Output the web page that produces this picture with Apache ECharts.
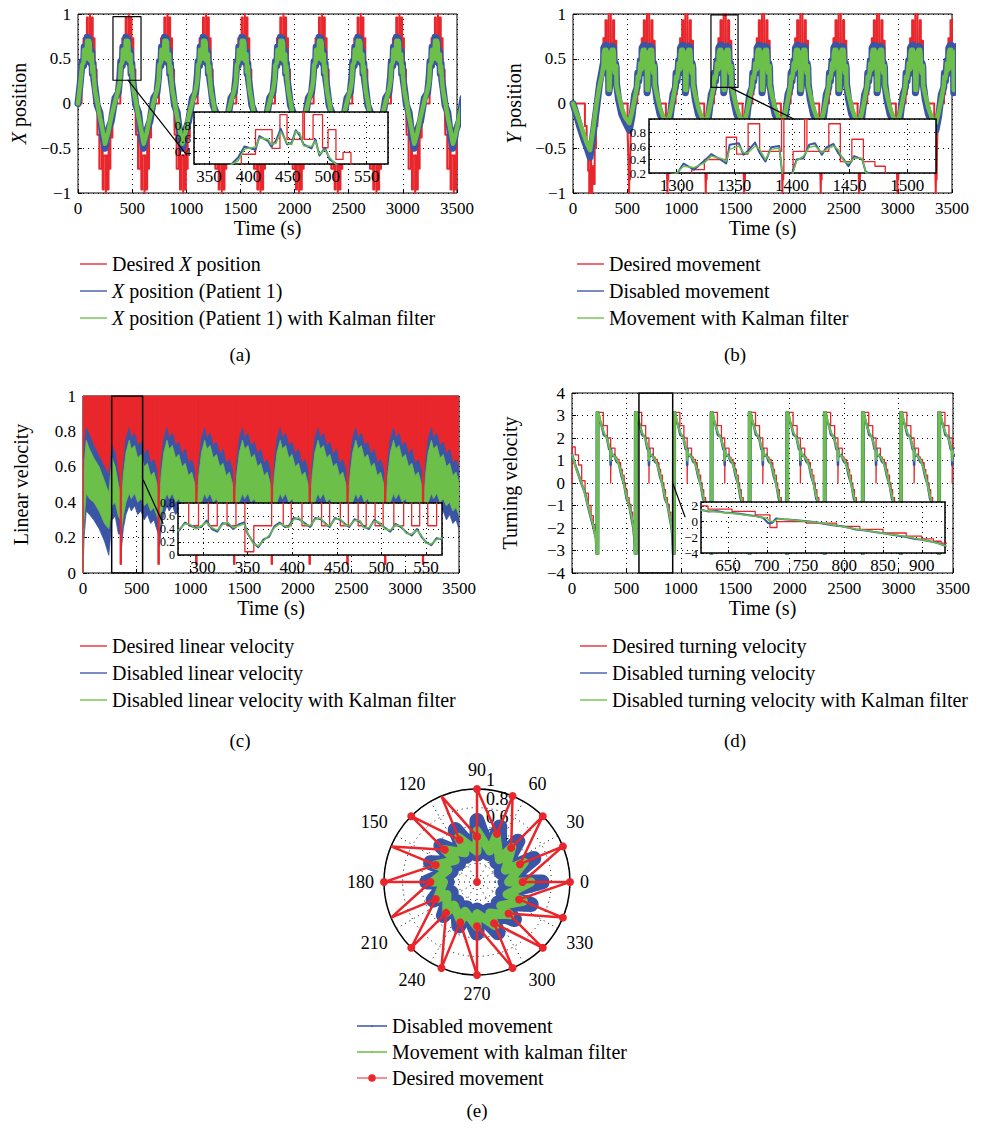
<!DOCTYPE html>
<html><head><meta charset="utf-8">
<script src="https://cdn.jsdelivr.net/npm/echarts@6/dist/echarts.min.js"></script>
<style>
html,body{margin:0;padding:0;background:#fff;width:984px;height:1130px;overflow:hidden}
.p{position:absolute}
</style></head><body>
<div id="pa" class="p" style="left:0;top:0;width:492px;height:375px"></div>
<div id="pb" class="p" style="left:492px;top:0;width:492px;height:375px"></div>
<div id="pc" class="p" style="left:0;top:375px;width:492px;height:385px"></div>
<div id="pd" class="p" style="left:492px;top:375px;width:492px;height:385px"></div>
<div id="pe" class="p" style="left:0;top:760px;width:984px;height:370px"></div>
<script>
// ======================= DATA =======================
// ---- (a) X position ----
const xPeakTimes = [102, 459, 816, 1173, 1530, 1887, 2244, 2601, 2958, 3315];
const xOffsets = [-64,-50,-45,-34,-30,-24,-18,-10,-4,1,6,11,21,26,31,38,44,55,75,100,125,148,175,205,240,270,285];
const xKalman  = [0.43,0.46,0.6,0.58,0.5,0.52,0.7,0.52,0.5,0.7,0.68,0.48,0.47,0.55,0.35,0.42,0.3,0.15,0.02,-0.15,-0.3,-0.45,-0.33,-0.15,0.02,0.15,0.25];
const xPatient = [0.47,0.42,0.63,0.55,0.47,0.56,0.74,0.5,0.53,0.72,0.64,0.5,0.44,0.58,0.33,0.45,0.27,0.18,-0.02,-0.1,-0.36,-0.5,-0.3,-0.2,0.06,0.12,0.3];
const xStartT = [0, 20];
const xStartKalman = [0, 0.2];
const xStartPatient = [0, 0.22];
const xDesPeakCenters = [112, 470, 827, 1184, 1541, 1898, 2255, 2612, 2969, 3326];
const xDesTroughCenters = [258, 615, 972, 1329, 1686, 2043, 2400, 2757, 3114, 3471];
const xDesOffsets = [-79,-61,-40,-30,-21,-1,1,12,24,31,41,50,60];
const xDesPeakLevels = [0.35,0.73,0.44,0.96,0.58,1,0.58,0.96,0.45,0.73,0.27,0.38,0];
const xDesTroughLevels = [-0.35,-0.73,-0.44,-0.96,-0.58,-1,-0.58,-0.96,-0.45,-0.73,-0.27,-0.38,0];
const xZoomT = [323, 582], xZoomV = [0.26, 0.97];
const xLinkT = [462, 1003], xLinkV = [0.26, -0.575];

// ---- (b) Y position ----
const yPeakTimes = [330, 684, 1038, 1392, 1746, 2100, 2454, 2808, 3162, 3516];
const yOffsets = [-140,-115,-92,-86,-77,-68,-62,-54,-49,-46,-38,-34,-30,-24,-20,-15,-10,-3,0,8,12,18,23,28,34,38,44,48,53,57,62,69,72,90,120,150,190];
const yKalman  = [-0.1,0.05,0.2,0.3,0.28,0.35,0.45,0.42,0.38,0.55,0.6,0.5,0.5,0.6,0.55,0.4,0.55,0.57,0.15,0.15,0.38,0.45,0.58,0.6,0.5,0.55,0.6,0.55,0.38,0.34,0.42,0.42,0.2,0.1,-0.05,-0.15,-0.22];
const yPatient = [-0.15,0.1,0.18,0.34,0.25,0.38,0.48,0.4,0.34,0.62,0.64,0.47,0.53,0.65,0.5,0.37,0.58,0.6,0.12,0.18,0.4,0.42,0.62,0.64,0.47,0.58,0.63,0.5,0.4,0.3,0.45,0.4,0.22,0.05,-0.12,-0.2,-0.3];
const yStartT = [0,30,60,100,130,157,185,218,245,265,280];
const yStartKalman = [0,-0.1,-0.2,-0.35,-0.45,-0.52,-0.3,0,0.2,0.3,0.42];
const yStartPatient = [0,-0.12,-0.25,-0.4,-0.5,-0.6,-0.35,-0.05,0.22,0.35,0.45];
const yDesPeakOffsets = [-90,-79,-68,-49,-40,-30,-20,-1,1,9,19,21,40,50,60,70,80,89,100];
const yDesPeakLevels  = [0.1,0.25,0.4,0.73,0.48,0.93,0.52,1,0.1,0.52,1,0.52,0.93,0.37,0.7,0.37,0.3,0.15,0];
const yDesTroughCenters = [520, 874, 1228, 1582, 1936, 2290, 2644, 2998, 3352];
const yDesTroughOffsets = [-16,-10,-6,-2,2,6,10,16,24];
const yDesTroughLevels  = [-0.3,-0.55,-0.75,-1,-0.6,-0.85,-0.5,-0.2,0];
const yDesStartT = [0,110,126,140,150,160,168,178,190,200,212,225];
const yDesStartV = [0,-0.25,-0.5,-0.75,-1,-0.6,-1,-0.7,-0.9,-0.5,-0.25,0];
const yZoomT = [1274, 1524], yZoomV = [0.18, 0.99];
const yLinkT = [1450, 2034], yLinkV = [0.18, -0.17];

// ---- (c) Linear velocity ----
const linDesT = [0,4,347,357,699,709,1050,1060,1402,1412,1753,1763,2105,2115,2457,2467,2808,2818,3160,3170,3500];
const linDesV = [0,1,0.05,1,0.05,1,0.05,1,0.05,1,0.05,1,0.05,1,0.05,1,0.05,1,0.05,1,1];
const linFillBase = [0.5, 0.5];
const linFillBaseT = [0, 3500];
const linGapTimes = [350, 702, 1053, 1405, 1756, 2108, 2460, 2811, 3163];
const linOffsets  = [0,10,25,50,80,100,130,160,190,220,250,280,310,340];
const linKalmanHi = [0.45,0.4,0.55,0.68,0.75,0.7,0.72,0.65,0.67,0.6,0.62,0.55,0.57,0.5];
const linKalmanLo = [0.3,0.25,0.32,0.4,0.45,0.42,0.45,0.4,0.42,0.38,0.4,0.35,0.37,0.32];
const linDisHi    = [0.5,0.45,0.62,0.76,0.82,0.76,0.79,0.72,0.74,0.67,0.7,0.62,0.64,0.58];
const linDisLo    = [0.22,0.15,0.25,0.33,0.38,0.35,0.38,0.33,0.35,0.3,0.33,0.28,0.3,0.24];
const linStartT = [0,10,30,60,100,150,200,240,270,300,330];
const linStartKalmanHi = [0.1,0.6,0.75,0.7,0.65,0.6,0.52,0.45,0.65,0.6,0.5];
const linStartKalmanLo = [0,0.3,0.45,0.42,0.4,0.35,0.28,0.25,0.38,0.4,0.32];
const linStartDisHi = [0.2,0.7,0.82,0.78,0.72,0.66,0.6,0.55,0.72,0.68,0.56];
const linStartDisLo = [0,0.2,0.35,0.33,0.3,0.25,0.18,0.1,0.3,0.32,0.22];
const linInsetDesT = [272,284,295,306,316,327,337,347,357,377,390,399,411,422,433,442,454,463,474,483,493,502,514,525,534,543,552,562,575];
const linInsetDesV = [1,0.45,1,0.45,1,0.45,1,0.05,0.45,1,0.45,1,0.45,1,0.45,1,0.45,1,0.45,1,0.45,1,0.45,1,0.45,1,0.45,1,1];
const linInsetT = [272,280,286,292,298,304,310,316,322,328,334,340,346,350,356,362,368,374,380,386,392,396,402,408,414,420,426,432,437,442,448,454,459,464,470,476,480,486,492,498,504,510,516,522,528,534,540,545,550,556,562,568];
const linInsetKalman = [0.38,0.48,0.47,0.4,0.45,0.5,0.42,0.38,0.47,0.5,0.42,0.45,0.48,0.35,0.18,0.14,0.22,0.3,0.42,0.48,0.45,0.42,0.55,0.57,0.47,0.45,0.55,0.57,0.47,0.45,0.55,0.56,0.46,0.45,0.53,0.53,0.42,0.42,0.52,0.5,0.4,0.38,0.46,0.45,0.33,0.32,0.38,0.3,0.18,0.17,0.24,0.26];
const linInsetDis = [0.36,0.5,0.45,0.42,0.43,0.53,0.4,0.36,0.49,0.48,0.4,0.47,0.5,0.33,0.2,0.12,0.24,0.28,0.44,0.5,0.43,0.44,0.57,0.55,0.49,0.43,0.57,0.55,0.49,0.43,0.57,0.54,0.48,0.43,0.55,0.51,0.44,0.4,0.54,0.48,0.42,0.36,0.48,0.43,0.35,0.3,0.4,0.28,0.2,0.15,0.26,0.24];
const linZoomT = [267, 555], linZoomV = [0, 1];
const linLinkT = [561, 745], linLinkV = [0.525, 0.28];

// ---- (d) Turning velocity ----
const turnJumpTimes = [242, 594, 945, 1290, 1640, 1985, 2330, 2680, 3030, 3380];
const turnOffsets = [-22,-16,-14,-12,-9,-7,-4,-2,0,15,31,50,77,100,110,113,116,122,145,168,190,214,237,260,283,306,320];
const turnKalman  = [-2.3,-3.14,3.14,-3.14,3.14,-3.14,3.14,-3.14,3.14,2.85,2.5,2.25,2.0,1.6,1.45,1.0,1.45,1.3,1.2,1.05,0.8,0.4,-0.1,-0.6,-1.0,-1.5,-1.9];
const turnDisabled= [-2.4,-3.14,3.14,-3.14,3.14,-3.14,3.14,-3.14,3.14,2.75,2.55,2.15,2.05,1.5,1.5,0.8,1.5,1.2,1.25,0.95,0.85,0.3,-0.05,-0.7,-0.95,-1.6,-1.95];
const turnStartT = [0,12,40,89,120,150,196,220];
const turnStartKalman = [1.25,1.1,0.6,0.0,-0.5,-1.05,-1.9,-2.5];
const turnStartDisabled = [1.3,1.05,0.65,-0.05,-0.45,-1.1,-1.95,-2.45];
const turnDesOffsets = [-12,-3,0,46,83,113,116,153,170,190,205,220,237,250,265,283,300,315,330];
const turnDesLevels  = [-2.8,-3.14,3.14,2.55,2.0,0,1.55,1.15,1.05,0.9,0.6,0.35,0.0,-0.3,-0.65,-0.95,-1.3,-1.7,-2.3];
const turnDesStartT = [0,2,30,60,89,120,150,175,196,215];
const turnDesStartV = [0,1.6,1.25,0.8,0.1,-0.45,-1.0,-1.45,-1.85,-2.3];
const turnInsetDesT = [615,624,655,685,704,713,751,790,820,850,880,900,915,925,935];
const turnInsetDesV = [2.0,1.6,1.3,0.85,-0.75,0.0,-0.2,-0.6,-1.0,-1.45,-1.85,-2.2,-2.5,-2.75,-2.8];
const turnInsetKalmanT = [615,640,660,686,700,704,710,715,730,750,773,794,815,837,858,880,900,915,932];
const turnInsetKalmanV = [1.45,1.2,1.0,0.65,0.45,0.0,0.05,0.35,0.25,0.05,-0.2,-0.6,-0.95,-1.25,-1.6,-1.9,-2.3,-2.6,-3.1];
const turnInsetDisT = [615,625,635,645,655,665,675,686,695,702,707,712,722,735,745,755,765,775,785,795,805,815,825,837,848,860,870,880,890,900,910,920,932];
const turnInsetDisV = [1.5,1.3,1.35,1.15,1.1,1.0,0.85,0.7,0.5,-0.2,-0.15,0.4,0.3,0.2,0.1,0.0,-0.1,-0.3,-0.45,-0.55,-0.75,-1.0,-1.1,-1.3,-1.45,-1.65,-1.8,-1.95,-2.2,-2.3,-2.5,-2.7,-3.15];
const turnZoomT = [615, 925], turnZoomV = [-4, 4];
const turnLinkT = [925, 1038], turnLinkV = [0, -1.5];

// ---- (e) polar ----
const polarAngles = [90,67.5,45,22.5,0,337.5,315,292.5,270,247.5,225,202.5,180,157.5,135,112.5];
const desiredInner = [0.49,0.56,0.52,0.5,0.49,0.49,0.48,0.48,0.475,0.47,0.47,0.48,0.5,0.48,0.49,0.49];
const desiredOuter = [1,1,1,1,1,1,1,1,1,1,1,1,1,1,1,1];
const disabledInner = [0.3,0.33,0.3,0.28,0.3,0.3,0.32,0.33,0.3,0.3,0.3,0.3,0.32,0.3,0.28,0.3];
const disabledOuter = [0.66,0.64,0.62,0.66,0.7,0.63,0.57,0.59,0.55,0.51,0.51,0.51,0.54,0.54,0.55,0.61];
const kalmanInner = [0.33,0.36,0.34,0.33,0.34,0.35,0.36,0.36,0.34,0.34,0.35,0.35,0.36,0.34,0.33,0.34];
const kalmanOuter = [0.55,0.54,0.53,0.55,0.58,0.54,0.5,0.51,0.48,0.46,0.46,0.46,0.48,0.48,0.49,0.52];

// ======================= HELPERS =======================
const FONT = "'Liberation Serif','DejaVu Serif','Times New Roman',serif";
const RED = '#e8262b', BLUE = '#3b55a6', GREEN = '#6cbf48', BLACK = '#000';
const DOT = [1, 4];
const LINE_ICON = 'path://M0,0 L40,0 L40,2 L0,2 Z';

function fmtNum(v) {
  const r = Math.round(v * 1000) / 1000;
  return r < 0 ? '\u2212' + String(-r) : String(r);
}
function pairs(ts, vs) { return ts.map((t, i) => [t, vs[i]]); }
function expand(starts, offsets, values, prefixT, prefixV) {
  const out = pairs(prefixT, prefixV);
  const last = prefixT.length ? prefixT[prefixT.length - 1] : -Infinity;
  starts.forEach(s => offsets.forEach((o, j) => { const t = s + o; if (t > last) out.push([t, values[j]]); }));
  out.sort((a, b) => a[0] - b[0]);
  return out;
}
function merge() {
  const out = [];
  for (const l of arguments) l.forEach(p => out.push(p));
  out.sort((a, b) => a[0] - b[0]);
  return out;
}
function stepPts(pts) {
  const out = [];
  pts.forEach((p, i) => { out.push(p); if (i + 1 < pts.length) out.push([pts[i + 1][0], p[1]]); });
  return out;
}
function boxPath(tr, vr) { return [[tr[0],vr[0]],[tr[1],vr[0]],[tr[1],vr[1]],[tr[0],vr[1]],[tr[0],vr[0]]]; }

function mainGrid(l,t,w,h){return {left:l,top:t,width:w,height:h,show:true,borderColor:BLACK,borderWidth:1,backgroundColor:'rgba(0,0,0,0)'};}
function insetGrid(l,t,w,h){return {left:l,top:t,width:w,height:h,show:true,borderColor:BLACK,borderWidth:1.5,backgroundColor:'#fff',z:5};}
const RICH = {i:{fontStyle:'italic',fontSize:20,fontFamily:FONT,color:BLACK}};
function xAxisMain(gi, gap){return {type:'value',gridIndex:gi,min:0,max:3500,interval:500,
  axisLine:{show:false,onZero:false}, axisTick:{show:true,inside:true,length:4,lineStyle:{color:BLACK}},
  axisLabel:{color:BLACK,fontSize:17,fontFamily:FONT,margin:7,formatter:v=>String(v)},
  splitLine:{show:true,lineStyle:{color:BLACK,type:DOT,width:1}},
  name:'Time (s)',nameLocation:'middle',nameGap:gap,nameMoveOverlap:false,nameTextStyle:{color:BLACK,fontSize:20,fontFamily:FONT}};}
function yAxisMain(gi,min,max,interval,name,gap){return {type:'value',gridIndex:gi,min:min,max:max,interval:interval,
  axisLine:{show:false,onZero:false}, axisTick:{show:true,inside:true,length:4,lineStyle:{color:BLACK}},
  axisLabel:{color:BLACK,fontSize:17,fontFamily:FONT,margin:7,formatter:fmtNum},
  splitLine:{show:true,lineStyle:{color:BLACK,type:DOT,width:1}},
  name:name,nameLocation:'middle',nameGap:gap,nameRotate:90,nameTextStyle:{color:BLACK,fontSize:20,fontFamily:FONT,rich:RICH}};}
function xAxisInset(gi,min,max){return {type:'value',gridIndex:gi,min:min,max:max,splitNumber:5,z:7,
  axisLine:{show:false,onZero:false}, axisTick:{show:true,inside:true,length:3,lineStyle:{color:BLACK}},
  axisLabel:{color:BLACK,fontSize:17,fontFamily:FONT,margin:4,showMinLabel:false,showMaxLabel:false,formatter:v=>String(v)},
  splitLine:{show:true,lineStyle:{color:BLACK,type:DOT,width:1}}};}
function yAxisInset(gi,min,max,interval,shown,fs){return {type:'value',gridIndex:gi,min:min,max:max,interval:interval,z:7,
  axisLine:{show:false,onZero:false}, axisTick:{show:true,inside:true,length:3,lineStyle:{color:BLACK}},
  axisLabel:{color:BLACK,fontSize:fs,lineHeight:fs,fontFamily:FONT,margin:3,interval:0,showMinLabel:true,showMaxLabel:true,
    formatter:v=>shown.some(s=>Math.abs(s-v)<1e-6)?fmtNum(v):''},
  splitLine:{show:true,lineStyle:{color:BLACK,type:DOT,width:1}}};}
function line(name, data, color, width, xi, yi, extra) {
  return Object.assign({type:'line', name:name, data:data, xAxisIndex:xi, yAxisIndex:yi, symbol:'none', showSymbol:false,
    animation:false, silent:true, lineStyle:{color:color, width:width, join:'round', cap:'round'}, itemStyle:{color:color}, z:2}, extra || {});
}
// filled region between two read curves, drawn through the axis scales
function band(name, lo, hi, color, xi, yi) {
  return {type:'custom', name:name, xAxisIndex:xi, yAxisIndex:yi, data:[lo[0]], clip:true, silent:true, z:2,
    itemStyle:{color:color},
    renderItem:(params, api) => {
      const pts = hi.map(p => api.coord(p)).concat(lo.slice().reverse().map(p => api.coord(p)));
      return {type:'polygon', shape:{points:pts}, style:{fill:color, stroke:color, lineWidth:0.8}};
    }};
}
function legend(left, top, names, italicX) {
  const l = {orient:'vertical', left:left, top:top, itemWidth:27, itemHeight:12, itemGap:7, selectedMode:false,
    data:names.map(n => ({name:n, icon:LINE_ICON})), textStyle:{color:BLACK,fontSize:20,fontFamily:FONT,rich:RICH}};
  if (italicX) l.formatter = n => n.replace(/\bX\b/, '{i|X}');
  return l;
}
function label(x, y, t) {
  return {type:'text', x:x, y:y, style:{text:t, fill:BLACK, fontSize:19, fontFamily:FONT, align:'center', verticalAlign:'middle'}};
}

// ======================= (a) =======================
(function(){
  const names = ['Desired X position','X position (Patient 1)','X position (Patient 1) with Kalman filter'];
  const des = merge(expand(xDesPeakCenters, xDesOffsets, xDesPeakLevels, [0], [0]), expand(xDesTroughCenters, xDesOffsets, xDesTroughLevels, [], []));
  const pat = expand(xPeakTimes, xOffsets, xPatient, xStartT, xStartPatient);
  const kal = expand(xPeakTimes, xOffsets, xKalman, xStartT, xStartKalman);
  const c = echarts.init(document.getElementById('pa'), null, {renderer:'svg'});
  c.setOption({
    animation:false, textStyle:{fontFamily:FONT},
    grid:[mainGrid(78,14,379,179), insetGrid(194,112,194,52)],
    xAxis:[xAxisMain(0,25), xAxisInset(1,331,577)],
    yAxis:[yAxisMain(0,-1,1,0.5,'{i|X} position',46), yAxisInset(1,0.2,1,0.2,[0.4,0.6,0.8],13)],
    legend: legend(75, 249, names, true),
    graphic: [label(240, 354, '(a)')],
    series:[
      line(names[0], des, RED, 2, 0, 0, {step:'end'}),
      line(names[1], pat, BLUE, 7, 0, 0),
      line(names[2], kal, GREEN, 4.5, 0, 0),
      line('zoom a', boxPath(xZoomT, xZoomV), BLACK, 1.2, 0, 0, {z:3}),
      line('link a', pairs(xLinkT, xLinkV), BLACK, 1.2, 0, 0, {z:3}),
      line(names[0], des, RED, 1.3, 1, 1, {step:'end', z:8}),
      line(names[1], pat, BLUE, 2, 1, 1, {z:8}),
      line(names[2], kal, GREEN, 1.5, 1, 1, {z:8})
    ]
  });
})();

// ======================= (b) =======================
(function(){
  const names = ['Desired movement','Disabled movement','Movement with Kalman filter'];
  const des = merge(expand(yPeakTimes, yDesPeakOffsets, yDesPeakLevels, yDesStartT, yDesStartV), expand(yDesTroughCenters, yDesTroughOffsets, yDesTroughLevels, [], []));
  const pat = expand(yPeakTimes, yOffsets, yPatient, yStartT, yStartPatient);
  const kal = expand(yPeakTimes, yOffsets, yKalman, yStartT, yStartKalman);
  const c = echarts.init(document.getElementById('pb'), null, {renderer:'svg'});
  c.setOption({
    animation:false, textStyle:{fontFamily:FONT},
    grid:[mainGrid(81,14,379,179), insetGrid(157,119,287,54)],
    xAxis:[xAxisMain(0,25), xAxisInset(1,1276,1525)],
    yAxis:[yAxisMain(0,-1,1,0.5,'{i|Y} position',46), yAxisInset(1,0.2,1,0.2,[0.2,0.4,0.6,0.8],13)],
    legend: legend(80, 249, names, false),
    graphic: [label(243, 354, '(b)')],
    series:[
      line(names[0], des, RED, 2, 0, 0, {step:'end'}),
      line(names[1], pat, BLUE, 7, 0, 0),
      line(names[2], kal, GREEN, 4.5, 0, 0),
      line('zoom b', boxPath(yZoomT, yZoomV), BLACK, 1.2, 0, 0, {z:3}),
      line('link b', pairs(yLinkT, yLinkV), BLACK, 1.2, 0, 0, {z:3}),
      line(names[0], des, RED, 1.3, 1, 1, {step:'end', z:8}),
      line(names[1], pat, BLUE, 2, 1, 1, {z:8}),
      line(names[2], kal, GREEN, 1.5, 1, 1, {z:8})
    ]
  });
})();

// ======================= (c) =======================
(function(){
  const names = ['Desired linear velocity','Disabled linear velocity','Disabled linear velocity with Kalman filter'];
  const des = pairs(linDesT, linDesV);
  const disLo = expand(linGapTimes, linOffsets, linDisLo, linStartT, linStartDisLo);
  const disHi = expand(linGapTimes, linOffsets, linDisHi, linStartT, linStartDisHi);
  const kalLo = expand(linGapTimes, linOffsets, linKalmanLo, linStartT, linStartKalmanLo);
  const kalHi = expand(linGapTimes, linOffsets, linKalmanHi, linStartT, linStartKalmanHi);
  const c = echarts.init(document.getElementById('pc'), null, {renderer:'svg'});
  c.setOption({
    animation:false, textStyle:{fontFamily:FONT},
    grid:[mainGrid(83,21,376,177), insetGrid(178,128,264,52)],
    xAxis:[xAxisMain(0,25), xAxisInset(1,272,568)],
    yAxis:[yAxisMain(0,0,1,0.2,'Linear velocity',52), yAxisInset(1,0,0.8,0.2,[0,0.2,0.4,0.6,0.8],12)],
    legend: legend(75, 256, names, false),
    graphic: [label(240, 365, '(c)')],
    series:[
      band(names[0], pairs(linFillBaseT, linFillBase), stepPts(des), RED, 0, 0),
      line(names[0], des, RED, 1.2, 0, 0, {step:'end'}),
      band(names[1], disLo, disHi, BLUE, 0, 0),
      band(names[2], kalLo, kalHi, GREEN, 0, 0),
      line('zoom c', boxPath(linZoomT, linZoomV), BLACK, 1.5, 0, 0, {z:3}),
      line('link c', pairs(linLinkT, linLinkV), BLACK, 1.2, 0, 0, {z:3}),
      line(names[0], pairs(linInsetDesT, linInsetDesV), RED, 1.3, 1, 1, {step:'end', z:8}),
      line(names[1], pairs(linInsetT, linInsetDis), BLUE, 2, 1, 1, {z:8}),
      line(names[2], pairs(linInsetT, linInsetKalman), GREEN, 1.5, 1, 1, {z:8})
    ]
  });
})();

// ======================= (d) =======================
(function(){
  const names = ['Desired turning velocity','Disabled turning velocity','Disabled turning velocity with Kalman filter'];
  const des = expand(turnJumpTimes, turnDesOffsets, turnDesLevels, turnDesStartT, turnDesStartV);
  const dis = expand(turnJumpTimes, turnOffsets, turnDisabled, turnStartT, turnStartDisabled);
  const kal = expand(turnJumpTimes, turnOffsets, turnKalman, turnStartT, turnStartKalman);
  const c = echarts.init(document.getElementById('pd'), null, {renderer:'svg'});
  c.setOption({
    animation:false, textStyle:{fontFamily:FONT},
    grid:[mainGrid(80,18,381,180), insetGrid(209,127,244,51)],
    xAxis:[xAxisMain(0,25), xAxisInset(1,615,930)],
    yAxis:[yAxisMain(0,-4,4,1,'Turning velocity',52), yAxisInset(1,-4,2.5,2,[-4,-2,0,2],13)],
    legend: legend(83, 256, names, false),
    graphic: [label(243, 365, '(d)')],
    series:[
      line(names[0], des, RED, 1.3, 0, 0, {step:'end'}),
      line(names[1], dis, BLUE, 2.6, 0, 0),
      line(names[2], kal, GREEN, 2, 0, 0),
      line('zoom d', boxPath(turnZoomT, turnZoomV), BLACK, 1.5, 0, 0, {z:3}),
      line('link d', pairs(turnLinkT, turnLinkV), BLACK, 1.2, 0, 0, {z:3}),
      line(names[0], pairs(turnInsetDesT, turnInsetDesV), RED, 1.3, 1, 1, {step:'end', z:8}),
      line(names[1], pairs(turnInsetDisT, turnInsetDisV), BLUE, 2, 1, 1, {z:8}),
      line(names[2], pairs(turnInsetKalmanT, turnInsetKalmanV), GREEN, 1.5, 1, 1, {z:8})
    ]
  });
})();

// ======================= (e) =======================
(function(){
  const names = ['Disabled movement','Movement with kalman filter','Desired movement'];
  const av = a => (a >= 90 ? a : a + 360);
  function path(inner, outer, fromCenter) {
    const pts = [];
    if (fromCenter) pts.push([0, av(polarAngles[0])]);
    polarAngles.forEach((a, i) => { pts.push([inner[i], av(a)]); pts.push([outer[i], av(a)]); });
    pts.push([inner[0], av(polarAngles[0])]);
    return pts;
  }
  const c = echarts.init(document.getElementById('pe'), null, {renderer:'svg'});
  c.setOption({
    animation:false, textStyle:{fontFamily:FONT},
    polar:{center:[477,122], radius:93},
    angleAxis:{type:'value', min:90, max:450, interval:30, startAngle:90, clockwise:false,
      axisLine:{lineStyle:{color:BLACK, width:1.5}}, axisTick:{show:false},
      axisLabel:{color:BLACK, fontSize:18, fontFamily:FONT, margin:10, formatter: v => (v >= 450 ? '' : String(v % 360))},
      splitLine:{show:true, lineStyle:{color:BLACK, type:DOT, width:1}}},
    radiusAxis:{type:'value', min:0, max:1, interval:0.2,
      axisLine:{show:false}, axisTick:{show:false},
      axisLabel:{color:BLACK, fontSize:18, fontFamily:FONT, margin:-9, align:'left', verticalAlign:'bottom',
        formatter: v => (v === 0 ? '' : String(Math.round(v*10)/10))},
      splitLine:{show:true, lineStyle:{color:BLACK, type:DOT, width:1}}},
    legend:{orient:'vertical', left:352, top:251, itemWidth:30, itemHeight:10, itemGap:6, selectedMode:false,
      textStyle:{color:BLACK, fontSize:20, fontFamily:FONT},
      data:[
        {name:names[0], icon:'path://M0,9 L40,9 L40,11 L0,11 Z M18.5,10 A1.5,1.5 0 1 1 21.5,10 A1.5,1.5 0 1 1 18.5,10 Z'},
        {name:names[1], icon:'path://M0,9 L40,9 L40,11 L0,11 Z M18.5,10 A1.5,1.5 0 1 1 21.5,10 A1.5,1.5 0 1 1 18.5,10 Z'},
        {name:names[2], icon:'path://M0,4.2 L40,4.2 L40,5.8 L0,5.8 Z M15,5 A5,5 0 1 1 25,5 A5,5 0 1 1 15,5 Z'}
      ]},
    graphic:[label(477, 350, '(e)')],
    series:[
      {type:'line', name:names[0], coordinateSystem:'polar', data:path(disabledInner, disabledOuter, false), symbol:'none', silent:true,
        lineStyle:{color:BLUE, width:15, join:'round', cap:'round'}, itemStyle:{color:BLUE}},
      {type:'line', name:names[1], coordinateSystem:'polar', data:path(kalmanInner, kalmanOuter, false), symbol:'none', silent:true,
        lineStyle:{color:GREEN, width:9, join:'round', cap:'round'}, itemStyle:{color:GREEN}},
      {type:'line', name:names[2], coordinateSystem:'polar', data:path(desiredInner, desiredOuter, true), symbol:'circle', symbolSize:8, showSymbol:true, silent:true,
        lineStyle:{color:RED, width:2.5}, itemStyle:{color:RED}}
    ]
  });
})();
</script>
</body></html>
